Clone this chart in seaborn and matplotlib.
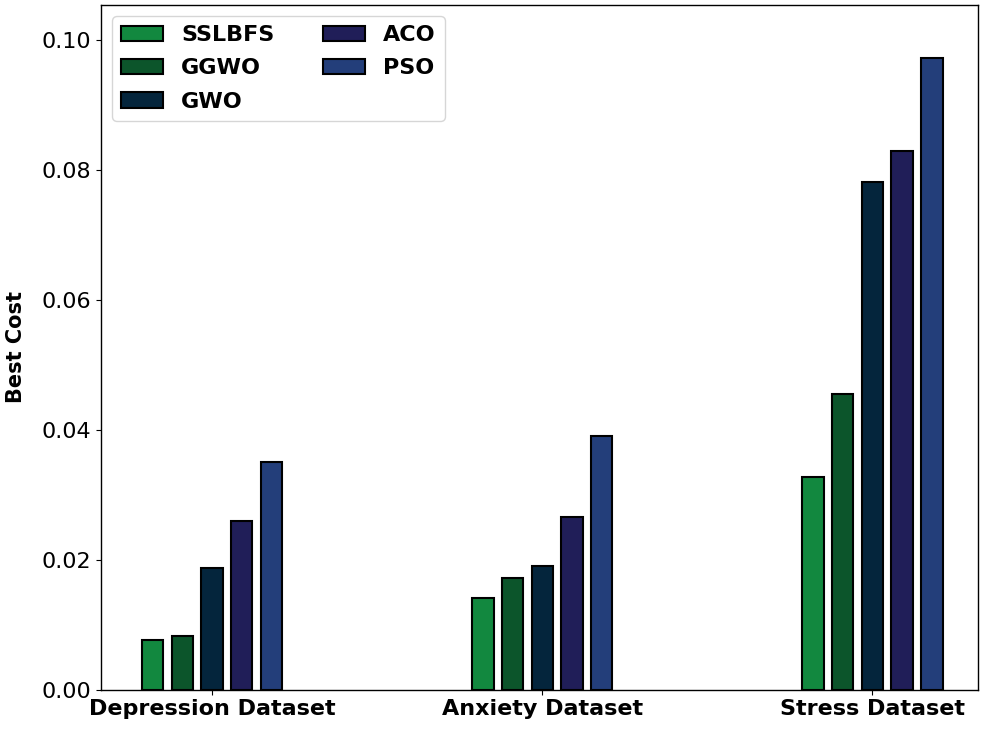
import pandas as pd
import numpy as np
import matplotlib.pyplot as plt
import seaborn as sns

# data
datasets = ["Depression Dataset", "Anxiety Dataset", "Stress Dataset"]
methods = ["SSLBFS", "GGWO", "GWO", "ACO", "PSO"]
sslbfs = [0.0077, 0.0142, 0.0328]
ggwo = [0.0082, 0.0172, 0.0455]
gwo = [0.0188, 0.0191, 0.0782]
aco = [0.0260, 0.0266, 0.0829]
pso = [0.0351, 0.0391, 0.0972]

colors = ["#12883f", "#0c552b", "#04253c", "#201e58", "#233e7a"]

rows = []
for m, vals in zip(methods, [sslbfs, ggwo, gwo, aco, pso]):
    for d, v in zip(datasets, vals):
        rows.append({"Dataset": d, "Method": m, "Best Cost": v})
df = pd.DataFrame(rows)

sns.set_style("ticks")
plt.rcParams["font.family"] = ["DejaVu Sans"]
plt.rcParams["text.color"] = "black"
plt.rcParams["axes.labelcolor"] = "black"
plt.rcParams["xtick.color"] = "black"
plt.rcParams["ytick.color"] = "black"

fig, ax = plt.subplots(figsize=(9.91, 7.33), dpi=100)
sns.barplot(data=df, x="Dataset", y="Best Cost", hue="Method",
            order=datasets, hue_order=methods, palette=colors,
            width=0.45, gap=0.28, edgecolor="black", linewidth=1.5,
            saturation=1, ax=ax)

ax.set_xlim(-0.336, 2.32)
ax.set_ylim(0, 0.1054)
ax.set_yticks([0.0, 0.02, 0.04, 0.06, 0.08, 0.10])
ax.set_yticklabels(["0.00", "0.02", "0.04", "0.06", "0.08", "0.10"], fontsize=16)
ax.set_xlabel("")
ax.set_ylabel("Best Cost", fontsize=15, fontweight="bold", labelpad=11)
for lab in ax.get_xticklabels():
    lab.set_fontweight("bold")
    lab.set_fontsize(16)

for s in ax.spines.values():
    s.set_color("black")
    s.set_linewidth(1.0)

leg = ax.legend(loc="upper left", ncol=2, prop={"weight": "bold", "size": 16},
                frameon=True, handlelength=1.9, columnspacing=2.2,
                labelspacing=0.6)

fig.subplots_adjust(left=0.102, right=0.987, top=0.993, bottom=0.059)
plt.savefig("out.png", dpi=100)
